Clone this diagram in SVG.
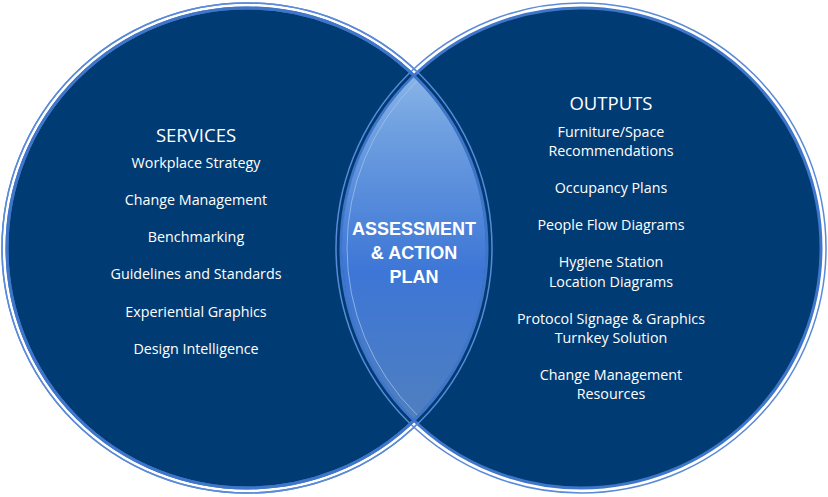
<svg xmlns="http://www.w3.org/2000/svg" width="828" height="497" viewBox="0 0 828 497">
<defs>
<style>
.c{fill:#013b73;stroke:#3f76c9;stroke-width:3}
.o{fill:none;stroke:#5a8ad8;stroke-width:1.5}
.t{font-family:"Open Sans","Liberation Sans",sans-serif;font-size:14.3px;fill:#fff;text-anchor:middle}
.h{font-family:"Open Sans","Liberation Sans",sans-serif;font-size:18.5px;fill:#fff;text-anchor:middle}
.b{font-family:"Liberation Sans",sans-serif;font-size:18px;font-weight:bold;fill:#fff;text-anchor:middle}
</style>
<clipPath id="cl"><circle cx="247" cy="248" r="239"/></clipPath>
<linearGradient id="g" x1="0" y1="0" x2="0" y2="1">
<stop offset="0" stop-color="#a9cdf0"/>
<stop offset="0.25" stop-color="#6fa0e0"/>
<stop offset="0.55" stop-color="#3d76d6"/>
<stop offset="0.85" stop-color="#4f7fc0"/>
<stop offset="1" stop-color="#3c6db8"/>
</linearGradient>
</defs>
<rect width="828" height="497" fill="#fff"/>
<g id="services">
<circle cx="247" cy="248" r="245" class="o"/>
<circle cx="247" cy="248" r="240" class="c"/>
<text class="h" x="196" y="142">SERVICES</text>
<text class="t" x="196" y="168">Workplace Strategy</text>
<text class="t" x="196" y="205">Change Management</text>
<text class="t" x="196" y="242">Benchmarking</text>
<text class="t" x="196" y="279">Guidelines and Standards</text>
<text class="t" x="196" y="317">Experiential Graphics</text>
<text class="t" x="196" y="354">Design Intelligence</text>
</g>
<g id="outputs">
<circle cx="581" cy="248" r="245" class="o"/>
<circle cx="581" cy="248" r="240" class="c"/>
<text class="h" x="611" y="110">OUTPUTS</text>
<text class="t" x="611" y="137">Furniture/Space</text>
<text class="t" x="611" y="156">Recommendations</text>
<text class="t" x="611" y="193">Occupancy Plans</text>
<text class="t" x="611" y="230">People Flow Diagrams</text>
<text class="t" x="611" y="267">Hygiene Station</text>
<text class="t" x="611" y="287">Location Diagrams</text>
<text class="t" x="611" y="324">Protocol Signage &amp; Graphics</text>
<text class="t" x="611" y="343">Turnkey Solution</text>
<text class="t" x="611" y="380">Change Management</text>
<text class="t" x="611" y="399">Resources</text>
</g>
<g id="lens">
<circle cx="581" cy="248" r="239" fill="url(#g)" clip-path="url(#cl)"/>
<g clip-path="url(#cl)"><circle cx="581" cy="248" r="234" fill="none" stroke="#a8c8f0" stroke-width="1" opacity="0.7"/></g>
<circle cx="247" cy="248" r="240" fill="none" stroke="#3f76c9" stroke-width="3"/>
<circle cx="247" cy="248" r="245" class="o"/>
<text class="b" x="414" y="235">ASSESSMENT</text>
<text class="b" x="414" y="259">&amp; ACTION</text>
<text class="b" x="414" y="283">PLAN</text>
</g>
</svg>
